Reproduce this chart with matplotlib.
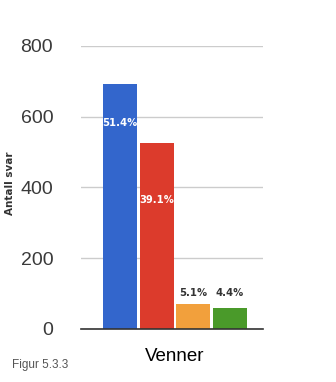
import matplotlib.pyplot as plt

values = [692, 526, 69, 59]
labels = ["51.4%", "39.1%", "5.1%", "4.4%"]
colors = ["#3366cc", "#dc3b2c", "#f2a03c", "#4a9a2a"]
yticks = [0, 200, 400, 600, 800]

plain = ["Liberation Sans", "DejaVu Sans"]

fig = plt.figure(figsize=(3.36, 3.82), dpi=100)
ax = fig.add_axes([0.241, 0.139, 0.542, 0.741])

x = range(len(values))
ax.bar(x, values, width=0.93, color=colors, zorder=3)

# label placement: inside for the tall bars, above for the short ones
offsets = [-110, -162, 33, 43]
for i, (v, lab) in enumerate(zip(values, labels)):
    inside = offsets[i] < 0
    ax.text(i, v + offsets[i], lab, ha="center", va="center",
            fontsize=7.2, fontweight="bold", family="DejaVu Sans",
            color="white" if inside else "#333333", zorder=4)

ax.set_xlim(-1.06, 3.9)
ax.set_ylim(0, 800)
ax.set_yticks(yticks)
ax.set_yticklabels([str(t) for t in yticks], fontsize=14, color="#3a3a3a",
                   family=plain)
ax.tick_params(axis="y", length=0, pad=20)
ax.set_xticks([])
ax.grid(axis="y", color="#cccccc", linewidth=1, zorder=0)
for s in ["top", "right", "left"]:
    ax.spines[s].set_visible(False)
ax.spines["bottom"].set_color("#333333")
ax.spines["bottom"].set_linewidth(1.2)
ax.spines["bottom"].set_zorder(5)

fig.text(0.03, 0.52, "Antall svar", rotation=90, ha="center", va="center",
         fontsize=7.5, fontweight="bold", family="DejaVu Sans", color="#333333")
fig.text(0.52, 0.066, "Venner", ha="center", va="center", fontsize=13.5,
         color="black", family=plain)
fig.text(0.036, 0.045, "Figur 5.3.3", ha="left", va="center", fontsize=8.5,
         color="#555555", family=plain)

fig.savefig("out.png", dpi=100)
